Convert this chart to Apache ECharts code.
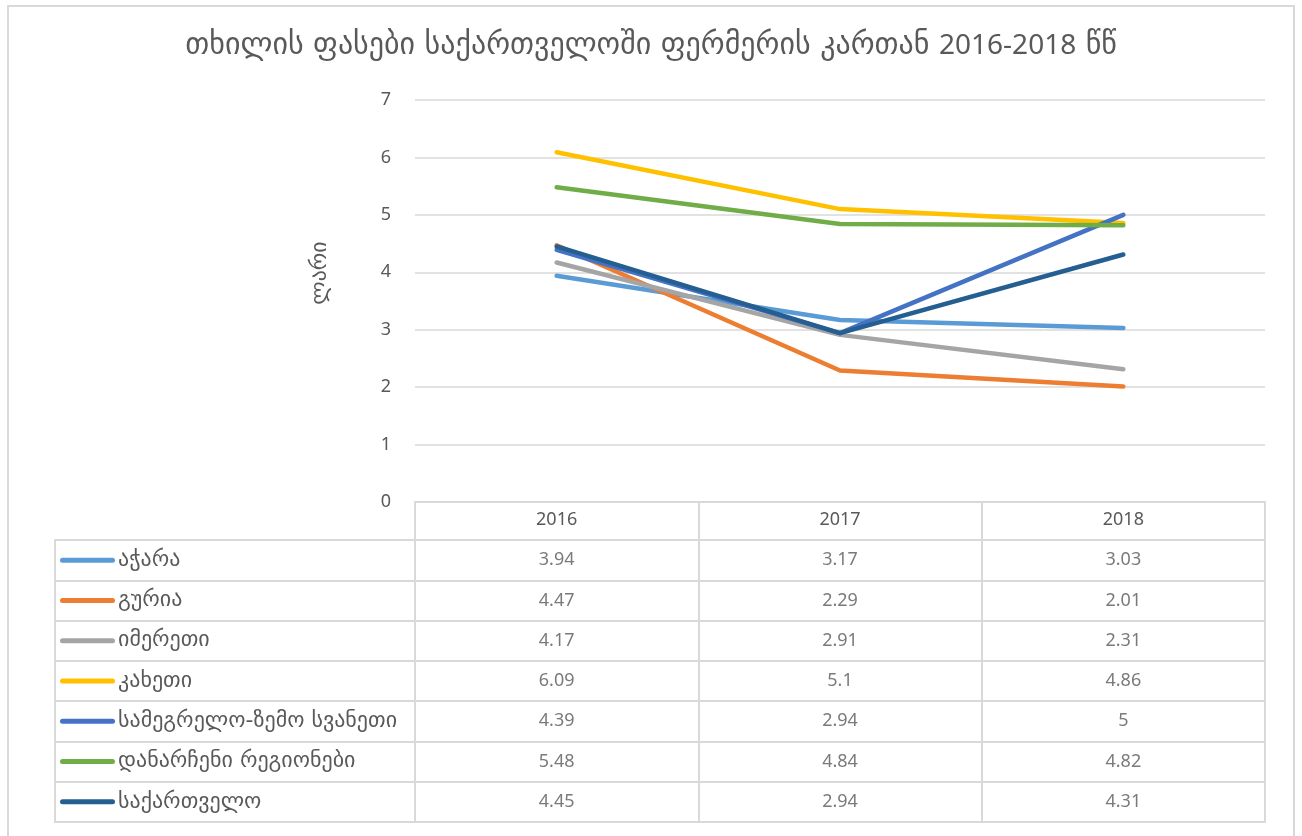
<!DOCTYPE html>
<html>
<head>
<meta charset="utf-8">
<script src="https://cdn.jsdelivr.net/npm/echarts@6/dist/echarts.min.js"></script>
<style>
  html, body { margin: 0; padding: 0; background: #fff; }
  #main { width: 1302px; height: 836px; }
</style>
</head>
<body>
<div id="main"></div>
<script>
// წლები და რეგიონები
var years = ['2016', '2017', '2018'];
var regions = ['აჭარა', 'გურია', 'იმერეთი', 'კახეთი', 'სამეგრელო-ზემო სვანეთი', 'დანარჩენი რეგიონები', 'საქართველო'];

// ფასები, ლარი
var adjara = [3.94, 3.17, 3.03];
var guria = [4.47, 2.29, 2.01];
var imereti = [4.17, 2.91, 2.31];
var kakheti = [6.09, 5.1, 4.86];
var samegrelo = [4.39, 2.94, 5];
var others = [5.48, 4.84, 4.82];
var georgia = [4.45, 2.94, 4.31];

var yTicks = [0, 1, 2, 3, 4, 5, 6, 7];

var values = [adjara, guria, imereti, kakheti, samegrelo, others, georgia];
var colors = ['#5B9BD5', '#ED7D31', '#A5A5A5', '#FFC000', '#4472C4', '#70AD47', '#255E91'];

var font = '"Noto Sans", "Open Sans", "DejaVu Sans", sans-serif';
var geo = '"DejaVu Sans", sans-serif';
var txt = '#595959';
var border = '#d9d9d9';

var chartDom = document.getElementById('main');
var myChart = echarts.init(chartDom);

// ლეგენდის ხაზები ცხრილის სათაურებში
var rich = { t: { fontSize: 22, color: txt, fontFamily: geo, padding: [0, 0, 0, 3] } };
colors.forEach(function (c, i) {
  rich['m' + i] = { width: 55, height: 5, backgroundColor: c, borderRadius: 3 };
});

var series = [];
values.forEach(function (v, i) {
  series.push({
    name: regions[i],
    type: 'line',
    xAxisIndex: 0,
    yAxisIndex: 0,
    data: v,
    symbol: 'none',
    lineStyle: { width: 4.5, color: colors[i], cap: 'round', join: 'round' },
    itemStyle: { color: colors[i] }
  });
});

// ცხრილის უჯრები
var cells = [];
values.forEach(function (v, i) {
  v.forEach(function (val, j) {
    cells.push([years[j], regions[i], val]);
  });
});
series.push({
  type: 'scatter',
  xAxisIndex: 1,
  yAxisIndex: 1,
  data: cells,
  symbolSize: 1,
  itemStyle: { color: 'transparent' },
  silent: true,
  label: {
    show: true,
    position: 'inside',
    fontSize: 18,
    color: txt,
    fontFamily: font,
    formatter: function (p) { return String(p.value[2]); }
  }
});

var option = {
  animation: false,
  title: {
    text: '{g|თხილის ფასები საქართველოში ფერმერის კართან }{d|2016-2018}{g| წწ}',
    left: 'center',
    top: 26,
    textStyle: {
      fontWeight: 'normal',
      color: txt,
      rich: {
        g: { fontSize: 30, color: txt, fontFamily: geo },
        d: { fontSize: 28, color: txt, fontFamily: font }
      }
    }
  },
  graphic: [{
    type: 'rect',
    shape: { x: 8, y: 6, width: 1286, height: 900 },
    style: { fill: 'none', stroke: border, lineWidth: 2 },
    silent: true
  }],
  grid: [
    { left: 415, right: 37, top: 100, bottom: 334 },
    { left: 415, right: 37, top: 540, bottom: 14 },
    { left: 55, width: 360, top: 540, bottom: 14 }
  ],
  xAxis: [
    {
      gridIndex: 0,
      type: 'category',
      data: years,
      boundaryGap: true,
      axisLine: { show: true, lineStyle: { color: border, width: 2 } },
      axisTick: { show: true, length: 38, lineStyle: { color: border, width: 2 } },
      axisLabel: { fontSize: 18, color: txt, fontFamily: font, margin: 9 },
      splitLine: { show: false }
    },
    {
      gridIndex: 1,
      type: 'category',
      data: years,
      boundaryGap: true,
      axisLine: { show: true, lineStyle: { color: border, width: 2 } },
      axisTick: { show: false },
      axisLabel: { show: false },
      splitLine: { show: true, lineStyle: { color: border, width: 2 } }
    },
    {
      gridIndex: 2,
      type: 'value',
      min: 0,
      max: 1,
      axisLine: { show: true, lineStyle: { color: border, width: 2 } },
      axisTick: { show: false },
      axisLabel: { show: false },
      splitLine: { show: false }
    }
  ],
  yAxis: [
    {
      gridIndex: 0,
      type: 'value',
      min: yTicks[0],
      max: yTicks[yTicks.length - 1],
      interval: 1,
      name: 'ლარი',
      nameLocation: 'middle',
      nameGap: 84,
      nameRotate: 90,
      nameTextStyle: { fontSize: 22, color: txt, fontFamily: geo, padding: [0, 0, 0, 56] },
      axisLine: { show: false },
      axisTick: { show: false },
      axisLabel: { fontSize: 18, color: txt, fontFamily: font, margin: 24 },
      splitLine: { show: true, lineStyle: { color: border, width: 1.5 } }
    },
    {
      gridIndex: 1,
      type: 'category',
      data: regions,
      inverse: true,
      axisLine: { show: true, lineStyle: { color: border, width: 2 } },
      axisTick: { show: false },
      axisLabel: { show: false },
      splitLine: { show: true, lineStyle: { color: border, width: 2 } }
    },
    {
      gridIndex: 2,
      type: 'category',
      data: regions,
      inverse: true,
      axisLine: { show: true, lineStyle: { color: border, width: 2 } },
      axisTick: { show: false },
      axisLabel: {
        show: true,
        inside: true,
        margin: 5,
        align: 'left',
        formatter: function (v, i) { return '{m' + i + '|}{t|' + v + '}'; },
        rich: rich
      },
      splitLine: { show: true, lineStyle: { color: border, width: 2 } }
    }
  ],
  series: series
};

myChart.setOption(option);
</script>
</body>
</html>
